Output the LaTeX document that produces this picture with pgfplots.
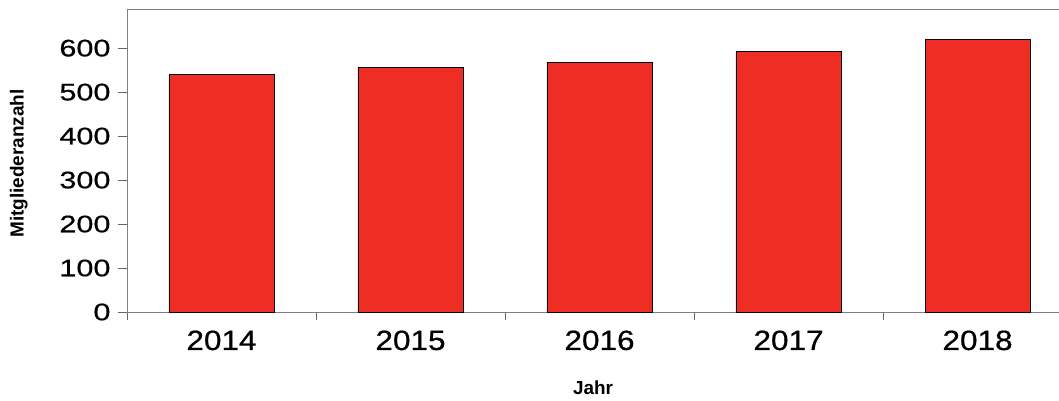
\documentclass[border=0pt]{standalone}
\usepackage{fontspec}
\setmainfont{Liberation Sans}
\newfontfamily\xtickfont[FakeStretch=1.13, FakeBold=0.6]{Liberation Sans}
\newfontfamily\ytickfont[FakeStretch=1.28, FakeBold=0.6]{Liberation Sans}
\usepackage{pgfplots}
\pgfplotsset{compat=1.18}
\definecolor{barred}{HTML}{EE2D24}
\begin{document}
\begin{tikzpicture}
\useasboundingbox (-127bp,-89bp) rectangle (932bp,312bp);
\begin{axis}[
  scale only axis,
  width=932bp, height=303bp,
  xmin=-0.5, xmax=4.431,
  ymin=0, ymax=689,
  ytick={0,100,...,600},
  xtick={0,1,2,3,4},
  xticklabels={2014,2015,2016,2017,2018},
  minor xtick={-0.5,0.5,1.5,2.5,3.5},
  major x tick style={draw=none},
  xtick pos=bottom, ytick pos=left,
  tick align=outside,
  major tick length=9bp, minor tick length=8bp,
  tick style={gray!80!black, semithick},
  axis line style={gray, semithick},
  /pgf/number format/assume math mode=true,
  yticklabel style={font=\fontsize{24}{27}\selectfont\ytickfont, xshift=-4bp},
  xticklabel style={font=\fontsize{28}{32}\selectfont\xtickfont, yshift=-6bp},
  ylabel={\textbf{Mitgliederanzahl}},
  xlabel={\textbf{Jahr}},
  label style={font=\fontsize{19}{22}\selectfont},
  ylabel style={at={(axis description cs:-0.116,0.49)}, anchor=center},
  xlabel style={at={(axis description cs:0.5,-0.251)}, anchor=center},
  clip=false,
]
\addplot[ybar, bar width=0.556, fill=barred, draw=black, semithick] coordinates {
  (0,540) (1,557) (2,568) (3,593) (4,620)
};
\end{axis}
\end{tikzpicture}
\end{document}
